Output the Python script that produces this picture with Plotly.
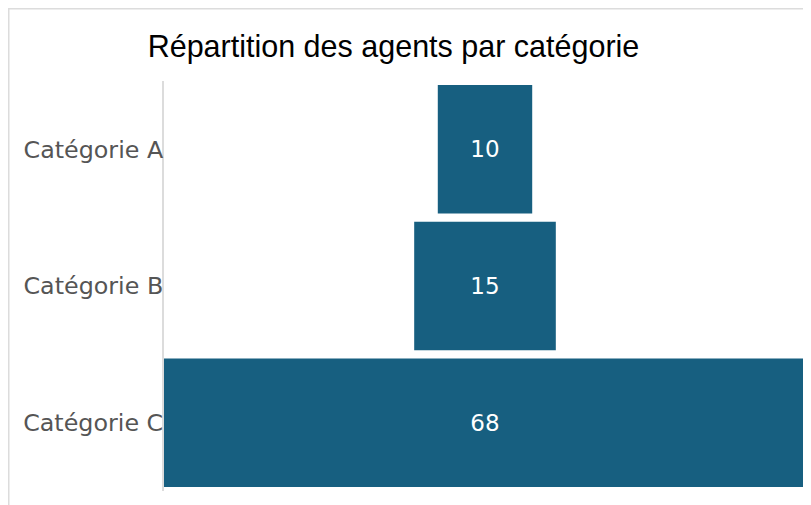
import plotly.graph_objects as go

categories = ["Catégorie A", "Catégorie B", "Catégorie C"]
agents = [10, 15, 68]
title_text = "Répartition des agents par catégorie"

BAR_COLOR = "#175f80"
W, H = 803, 497
ML, MR, MT, MB = 156, 5, 73, 14

fig = go.Figure(
    go.Funnel(
        y=categories,
        x=agents,
        textinfo="value",
        textposition="inside",
        insidetextfont=dict(family="DejaVu Sans", size=23, color="white"),
        marker=dict(color=BAR_COLOR),
        connector=dict(visible=False),
        hoverinfo="skip",
    )
)

half = max(agents) / 2
pw = W - ML - MR
ph = H - MT - MB
fig.update_layout(
    width=W,
    height=H,
    margin=dict(l=ML, r=MR, t=MT, b=MB, pad=0),
    paper_bgcolor="white",
    plot_bgcolor="white",
    showlegend=False,
    funnelgap=0.06,
    title=dict(
        text=title_text,
        font=dict(family="Liberation Sans, Arial", size=30.5, color="black"),
        x=385.5 / W,
        xref="container",
        xanchor="center",
        y=1 - 38 / H,
        yref="container",
        yanchor="middle",
    ),
    xaxis=dict(range=[-half, half], visible=False, fixedrange=True),
    yaxis=dict(
        showline=True,
        linecolor="#dcdcdc",
        linewidth=2,
        showgrid=False,
        ticks="",
        ticklabelstandoff=-6,
        tickfont=dict(family="DejaVu Sans", size=23.8, color="#555555"),
        autorange="reversed",
    ),
    shapes=[
        dict(type="line", xref="paper", yref="paper",
             x0=-ML / pw, x1=1 + MR / pw, y0=1 + (MT - 0.75) / ph, y1=1 + (MT - 0.75) / ph,
             line=dict(color="#dcdcdc", width=1.5)),
        dict(type="line", xref="paper", yref="paper",
             x0=-(ML - 0.75) / pw, x1=-(ML - 0.75) / pw, y0=-MB / ph, y1=1 + MT / ph,
             line=dict(color="#dcdcdc", width=1.5)),
    ],
)

fig.write_html("out.html")
